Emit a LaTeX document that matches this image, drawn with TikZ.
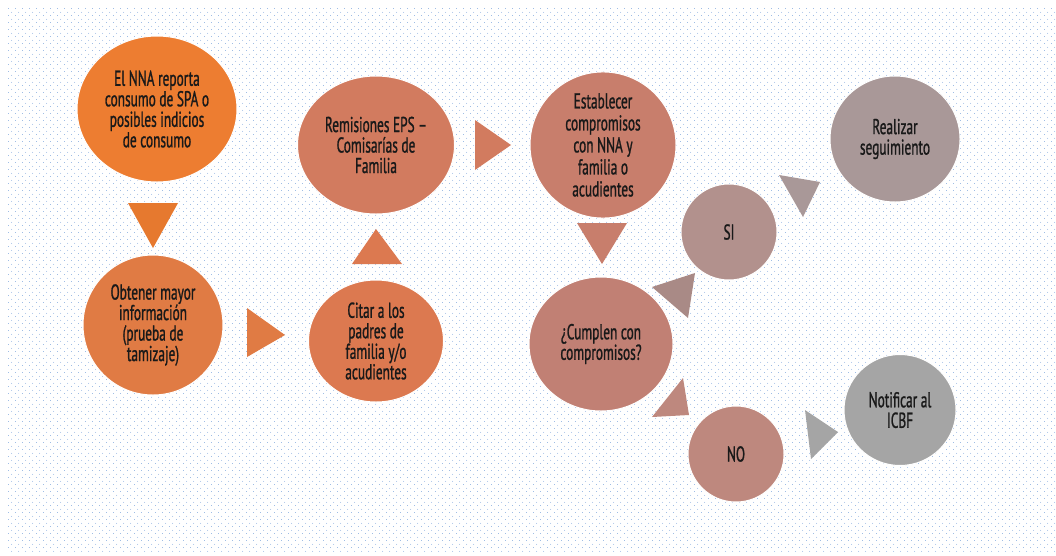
\documentclass[tikz,border=0pt]{standalone}
\usepackage{fontspec}
\setmainfont{PT Sans}[FakeStretch=0.62, FakeBold=1.0]
\usetikzlibrary{shapes.geometric,patterns.meta}

\definecolor{dotblue}{RGB}{125,165,220}
\definecolor{cA}{RGB}{237,125,49}
\definecolor{cB}{RGB}{224,123,68}
\definecolor{cC}{RGB}{220,121,80}
\definecolor{cD}{RGB}{210,123,95}
\definecolor{cE}{RGB}{200,126,108}
\definecolor{cF}{RGB}{193,128,116}
\definecolor{cG}{RGB}{178,145,141}
\definecolor{cH}{RGB}{190,136,126}
\definecolor{cI}{RGB}{169,152,152}
\definecolor{cJ}{RGB}{165,165,165}

\tikzdeclarepattern{name=bgdots, type=uncolored,
  bounding box={(0,0) and (7pt,7pt)}, tile size={(7pt,7pt)},
  code={\pgfpathcircle{\pgfpoint{1.75pt}{1.75pt}}{0.5pt}
        \pgfpathcircle{\pgfpoint{5.25pt}{5.25pt}}{0.5pt}\pgfusepath{fill}}}

\begin{document}
\begin{tikzpicture}[x=1pt,y=-1pt,
    circ/.style={ellipse, draw=white, line width=1pt, inner sep=0pt,
      align=center, text=black!90, font=\fontsize{21.5}{20.5}\selectfont}]
    \useasboundingbox (0,0) rectangle (1056,555);
    \fill[white] (0,0) rectangle (1056,555);
    \fill[pattern=bgdots, pattern color=dotblue] (7,7) rectangle (1056,553);
    % circles
    \node[circ, fill=cA, minimum width=160pt, minimum height=146pt] (reporta) at (157,109)
        {El NNA reporta\\consumo de SPA o\\posibles indicios\\de consumo};
    \node[circ, fill=cB, minimum width=140pt, minimum height=140pt] (obtener) at (153,325)
        {Obtener mayor\\información\\(prueba de\\tamizaje)};
    \node[circ, fill=cC, minimum width=135pt, minimum height=122pt] (citar) at (376,341)
        {Citar a los\\padres de\\familia y/o\\acudientes};
    \node[circ, fill=cD, minimum width=157pt, minimum height=138pt] (remision) at (376,145)
        {Remisiones EPS --\\Comisarías de\\Familia};
    \node[circ, fill=cE, minimum width=146pt, minimum height=130pt,
          font=\fontsize{21.5}{22}\selectfont] (establecer) at (603,145)
        {Establecer\\compromisos\\con NNA y\\familia o\\acudientes};
    \node[circ, fill=cF, minimum width=144pt, minimum height=134pt] (cumplen) at (601,344)
        {¿Cumplen con\\compromisos?};
    \node[circ, fill=cG, minimum width=96pt, minimum height=96pt] (si) at (729,232) {SI};
    \node[circ, fill=cH, minimum width=96pt, minimum height=96pt] (no) at (736,454) {NO};
    \node[circ, fill=cI, minimum width=130pt, minimum height=126pt] (seguir) at (895,139)
        {Realizar\\seguimiento};
    \node[circ, fill=cJ, minimum width=112pt, minimum height=111pt] (notificar) at (900,410)
        {Notificar al\\ICBF};
    % arrows
    \fill[cA!97!black] (128,203) -- (178,203) -- (153,248) -- cycle;
    \fill[cB] (247,308) -- (285,335) -- (247,357) -- cycle;
    \fill[cC] (352,264) -- (402,264) -- (376,229) -- cycle;
    \fill[cD] (475,120) -- (511,145) -- (475,170) -- cycle;
    \fill[cE] (577,223) -- (627,223) -- (602,264) -- cycle;
    \fill[cG!95!black] (652,287) -- (695,273) -- (688,318) -- cycle;
    \fill[cH] (683,378) -- (689,415) -- (652,417) -- cycle;
    \fill[cI] (779,175) -- (820,182) -- (803,217) -- cycle;
    \fill[cJ] (805,410) -- (838,432) -- (811,459) -- cycle;
\end{tikzpicture}
\end{document}
